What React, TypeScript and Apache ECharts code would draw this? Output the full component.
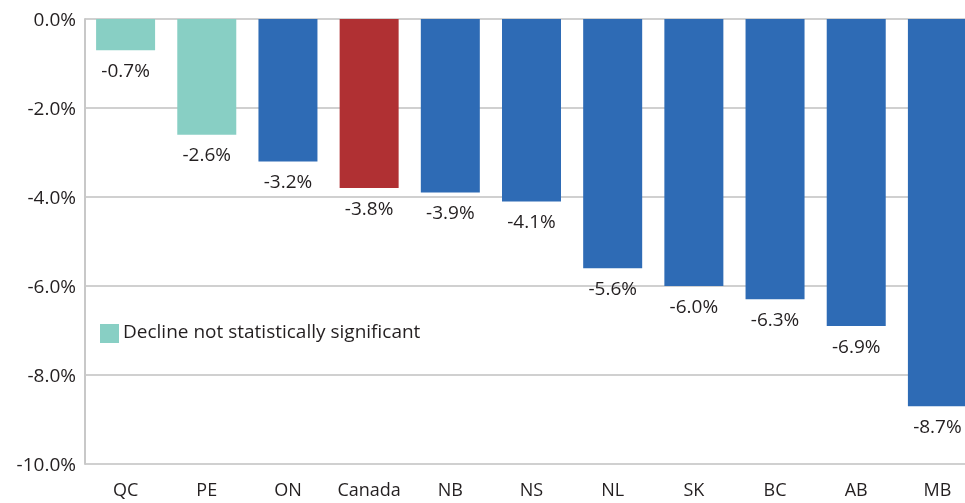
import React, { useEffect, useRef } from "react";
import * as echarts from "echarts";

const categories = ["QC", "PE", "ON", "Canada", "NB", "NS", "NL", "SK", "BC", "AB", "MB"];
const values = [-0.7, -2.6, -3.2, -3.8, -3.9, -4.1, -5.6, -6.0, -6.3, -6.9, -8.7];
const kinds = ["ns", "ns", "sig", "canada", "sig", "sig", "sig", "sig", "sig", "sig", "sig"];
const legendText = "Decline not statistically significant";

const COLORS: Record<string, string> = {
  ns: "#88cfc4",
  sig: "#2e6bb5",
  canada: "#b03033",
};
const FONT = "'Open Sans', sans-serif";
const TEXT = "#231f20";

export default function App() {
  const ref = useRef<HTMLDivElement>(null);
  useEffect(() => {
    if (!ref.current) return;
    const chart = echarts.init(ref.current, undefined, { renderer: "svg" });
    chart.setOption({
      animation: false,
      grid: { left: 85, width: 893, top: 19, height: 445, containLabel: false },
      xAxis: {
        type: "category",
        data: categories,
        position: "bottom",
        axisLine: { onZero: false, show: false },
        axisTick: { show: false },
        axisLabel: { color: TEXT, fontFamily: FONT, fontSize: 18, margin: 16, interval: 0 },
      },
      yAxis: {
        type: "value",
        min: -10,
        max: 0,
        interval: 2,
        axisLine: { show: true, lineStyle: { color: "#c8c8c8", width: 2 } },
        axisTick: { show: false },
        splitLine: { lineStyle: { color: "#c0c0c0", width: 1.5 } },
        axisLabel: {
          color: TEXT,
          fontFamily: FONT,
          fontSize: 19,
          margin: 9,
          formatter: (v: number) => v.toFixed(1) + "%",
        },
      },
      series: [
        {
          type: "bar",
          barWidth: 59,
          data: values.map((v, i) => ({ value: v, itemStyle: { color: COLORS[kinds[i]] } })),
          label: {
            show: true,
            position: "bottom",
            distance: 10,
            color: TEXT,
            fontFamily: FONT,
            fontSize: 19,
            formatter: (p: any) => Number(p.value).toFixed(1) + "%",
          },
        },
      ],
      graphic: [
        { type: "rect", left: 100, top: 324, shape: { width: 19, height: 19 }, style: { fill: COLORS.ns } },
        {
          type: "text",
          left: 123,
          top: 321,
          style: { text: legendText, fill: TEXT, font: `19px ${FONT}` },
        },
      ],
    });
    return () => chart.dispose();
  }, []);
  return (
    <div style={{ position: "fixed", left: 0, top: 0, width: 965, height: 503, overflow: "hidden" }}>
      <div ref={ref} style={{ width: 990, height: 503 }} />
    </div>
  );
}
